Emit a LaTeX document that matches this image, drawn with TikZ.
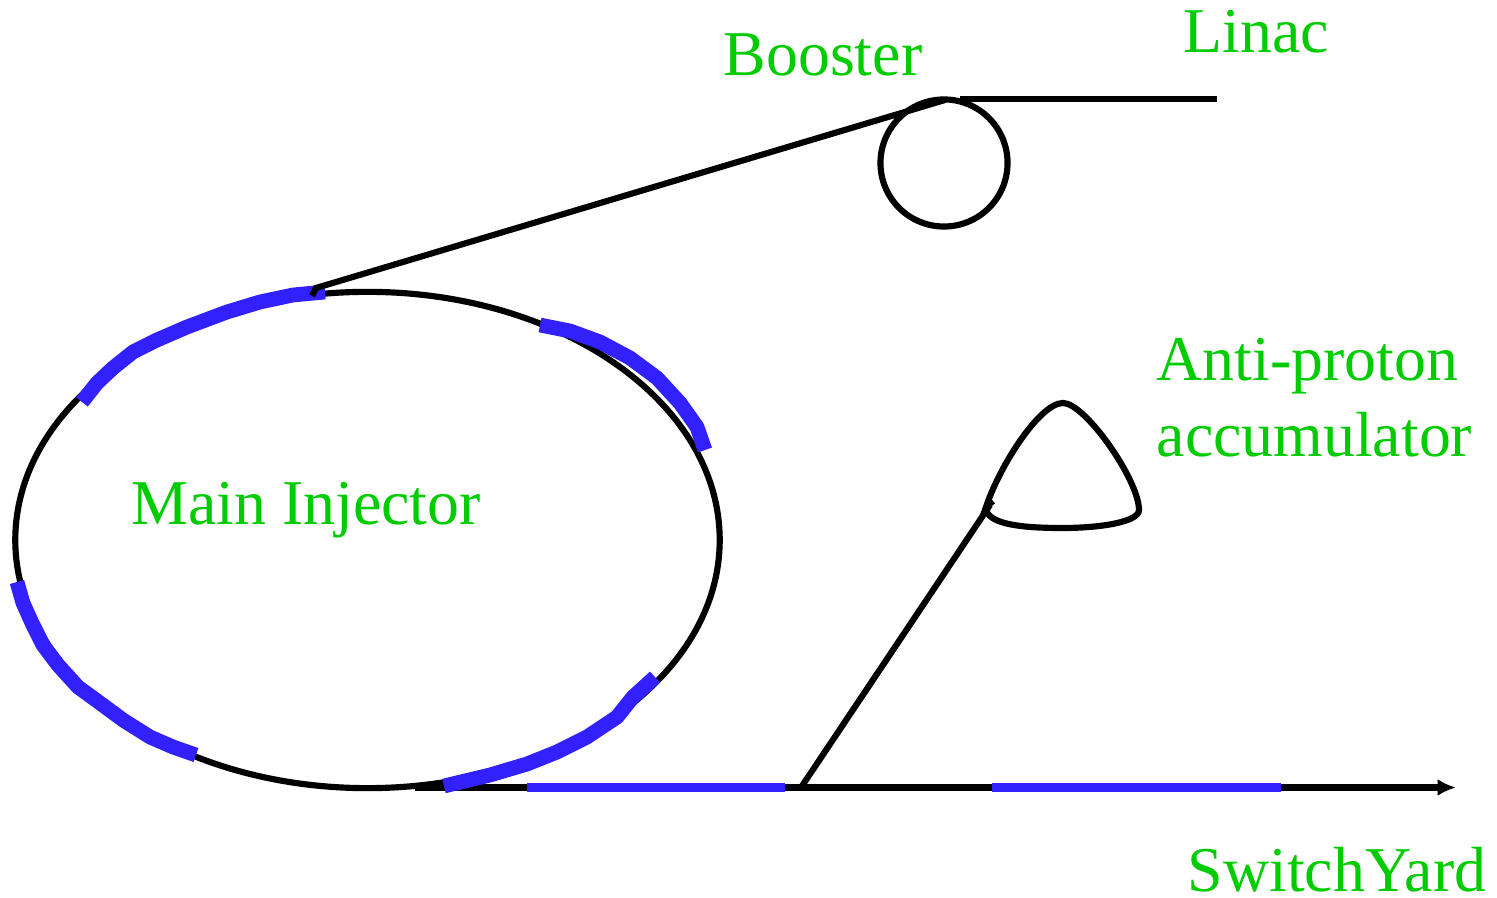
\documentclass[tikz,border=0pt]{standalone}
\usepackage{fontspec}
\setmainfont{Liberation Serif}
\usetikzlibrary{arrows.meta,shapes.geometric}
\definecolor{ringBlue}{HTML}{3320FF}
\definecolor{labelGreen}{HTML}{00CC00}
\tikzset{
  beamline/.style={line width=1.75pt, black},
  magnet/.style={line width=4.2pt, ringBlue, line join=round},
  straightmag/.style={line width=2.6pt, ringBlue},
  lab/.style={anchor=base west, inner sep=0pt, text=labelGreen, font=\fontsize{18.15}{22}\selectfont}
}
\begin{document}
\begin{tikzpicture}[x=0.01cm,y=-0.01cm]
  \useasboundingbox (0,0) rectangle (1497,898);
  % rings
  \node[ellipse, draw, beamline, inner sep=0pt, minimum width=7.04cm, minimum height=4.96cm] (mainRing) at (367.5,540) {};
  \node[circle, draw, beamline, inner sep=0pt, minimum size=1.27cm] (boosterRing) at (944,163) {};
  % end points of the lines
  \coordinate (boosterExit) at (945,100);
  \coordinate (ringEntry) at (316,288);
  \coordinate (ringHook) at (312,296);
  \coordinate (linacStart) at (960,99);
  \coordinate (linacEnd) at (1217,99);
  \coordinate (yardStart) at (415,787.5);
  \coordinate (yardEnd) at (1456,787.5);
  \coordinate (branchFoot) at (801,787.5);
  \coordinate (branchTop) at (990,505);
  \draw[beamline] (linacStart) -- (linacEnd);
  \draw[beamline, -{Latex[length=5.2pt,width=4.8pt]}] (yardStart) -- (yardEnd);
  \draw[beamline] (branchFoot) -- (branchTop);
  % accumulator
  \draw[beamline] (993,501) -- (986,507) .. controls (1000,465) and (1040,403) .. (1063,403)
    .. controls (1085,403) and (1139,480) .. (1139,510)
    .. controls (1139,522) and (1100,528) .. (1063,528)
    .. controls (1030,528) and (985,526) .. (986,507);
  % magnets on the ring
  \draw[magnet] (82,402) -- (97,383) -- (113,368) -- (133,352) -- (157,340) -- (187,327) -- (227,312) -- (260,302) -- (293,295) -- (325,292);
  \draw[magnet] (540,325) -- (570,331) -- (600,342) -- (630,358) -- (657,378) -- (680,403) -- (697,427) -- (705,450);
  \draw[magnet] (17,582) -- (23,603) -- (32,623) -- (43,645) -- (58,665) -- (78,687) -- (100,703) -- (123,720) -- (150,737) -- (173,747) -- (196,755);
  \draw[magnet] (444,786) -- (490,775) -- (527,764) -- (557,752) -- (587,737) -- (617,717) -- (633,697) -- (655,677);
  \foreach \xa/\xb in {527/785,992/1281}{
    \draw[straightmag] (\xa,787.5) -- (\xb,787.5);
  }
  \draw[beamline] (ringHook) -- (ringEntry) -- (boosterExit);
  % labels
  \node[lab] (boosterLab) at (723,76) {Booster};
  \node[lab] (linacLab) at (1183,53) {Linac};
  \node[lab] (mainLab) at (131,525) {Main Injector};
  \node[lab] (antiLab) at (1156,381) {Anti-proton};
  \node[lab] (accuLab) at (1156,457) {accumulator};
  \node[lab] (yardLab) at (1187,892) {SwitchYard};
\end{tikzpicture}
\end{document}
